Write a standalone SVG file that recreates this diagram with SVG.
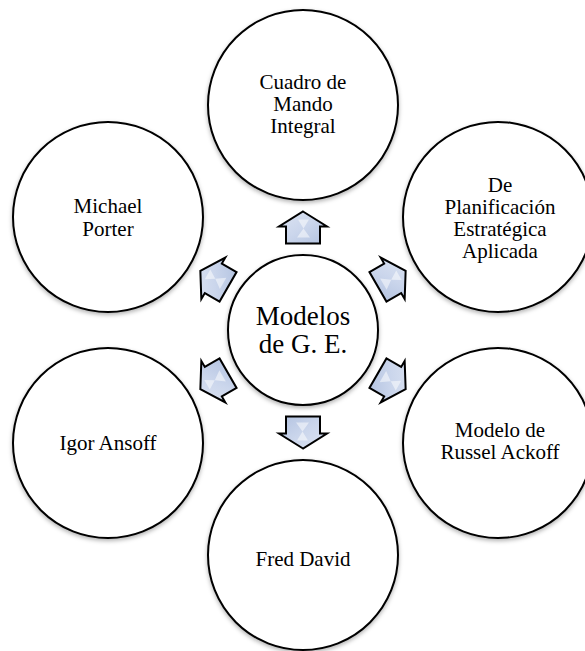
<svg xmlns="http://www.w3.org/2000/svg" width="585" height="651" viewBox="0 0 585 651">
  <defs>
    <filter id="soft" x="-20%" y="-20%" width="140%" height="140%">
      <feDropShadow dx="0" dy="2" stdDeviation="2" flood-color="#000" flood-opacity="0.3"/>
    </filter>
    <linearGradient id="arrowFill" x1="0" y1="0" x2="1" y2="1">
      <stop offset="0" stop-color="#dde4f2"/>
      <stop offset="0.5" stop-color="#cbd6ec"/>
      <stop offset="1" stop-color="#b2c2e0"/>
    </linearGradient>
    <!-- block arrow pointing up, centred on the origin -->
    <path id="blockArrow" d="M0,-16 L24,-1 L17,-1 L17,16 L-17,16 L-17,-1 L-24,-1 Z"/>
    <!-- bow-tie sheen across the middle of each arrow -->
    <path id="glint" d="M-5,-8 L6,-8 L0.5,1 Z M0.5,1 L7,10 L-6,10 Z"/>
  </defs>
  <style>
    .circle { fill: #ffffff; stroke: #000000; stroke-width: 2; filter: url(#soft); }
    .arrow { fill: url(#arrowFill); stroke: #000000; stroke-width: 2; stroke-linejoin: miter; }
    .glint { fill: #ffffff; opacity: 0.5; }
    .label { font-family: "Liberation Serif", "Times New Roman", serif; font-size: 21px; fill: #000000; text-anchor: middle; }
    .hub { font-size: 27px; }
  </style>

  <rect width="585" height="651" fill="#ffffff"/>

  <g id="connectors">
    <g transform="translate(303,227.5)"><use href="#blockArrow" class="arrow"/><use href="#glint" class="glint"/></g>
    <g transform="translate(391.8,278.8) rotate(60)"><use href="#blockArrow" class="arrow"/><use href="#glint" class="glint"/></g>
    <g transform="translate(391.8,381.2) rotate(120)"><use href="#blockArrow" class="arrow"/><use href="#glint" class="glint"/></g>
    <g transform="translate(303,432.5) rotate(180)"><use href="#blockArrow" class="arrow"/><use href="#glint" class="glint"/></g>
    <g transform="translate(214.2,381.2) rotate(240)"><use href="#blockArrow" class="arrow"/><use href="#glint" class="glint"/></g>
    <g transform="translate(214.2,278.8) rotate(300)"><use href="#blockArrow" class="arrow"/><use href="#glint" class="glint"/></g>
  </g>

  <g id="hub">
    <circle class="circle" cx="303" cy="330" r="75"/>
    <text class="label hub" x="303" y="325">Modelos</text>
    <text class="label hub" x="303" y="353">de G. E.</text>
  </g>

  <g id="cuadro-de-mando">
    <circle class="circle" cx="303" cy="105" r="95"/>
    <text class="label" x="303" y="89">Cuadro de</text>
    <text class="label" x="303" y="111">Mando</text>
    <text class="label" x="303" y="133">Integral</text>
  </g>

  <g id="planificacion">
    <circle class="circle" cx="498" cy="217" r="95"/>
    <text class="label" x="500" y="192">De</text>
    <text class="label" x="500" y="214">Planificación</text>
    <text class="label" x="500" y="236">Estratégica</text>
    <text class="label" x="500" y="258">Aplicada</text>
  </g>

  <g id="ackoff">
    <circle class="circle" cx="498" cy="443" r="95"/>
    <text class="label" x="500" y="437">Modelo de</text>
    <text class="label" x="500" y="459">Russel Ackoff</text>
  </g>

  <g id="fred-david">
    <circle class="circle" cx="303" cy="555" r="95"/>
    <text class="label" x="303" y="566">Fred David</text>
  </g>

  <g id="ansoff">
    <circle class="circle" cx="108" cy="443" r="95"/>
    <text class="label" x="108" y="450">Igor Ansoff</text>
  </g>

  <g id="porter">
    <circle class="circle" cx="108" cy="217" r="95"/>
    <text class="label" x="108" y="213">Michael</text>
    <text class="label" x="108" y="236">Porter</text>
  </g>
</svg>
